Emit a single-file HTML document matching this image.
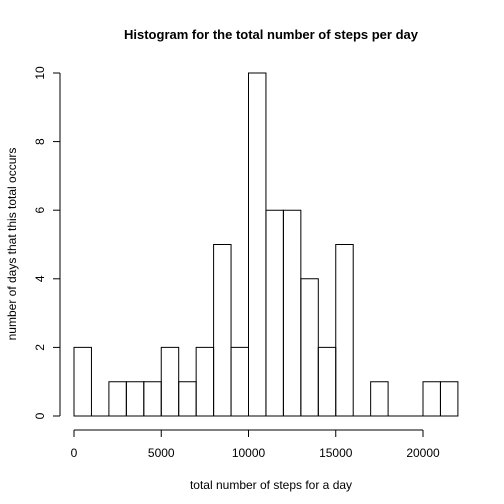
<!DOCTYPE html>
<html><head><meta charset="utf-8"><style>
body{margin:0;background:#fff}
svg{display:block;font-family:"Liberation Sans",Arial,sans-serif}
</style></head><body>
<svg id="c" width="504" height="504" viewBox="0 0 504 504">
<rect width="504" height="504" fill="#fff"/>
<text x="271" y="39" text-anchor="middle" font-weight="bold" font-size="13">Histogram for the total number of steps per day</text>
<text x="271" y="489" text-anchor="middle" font-size="12">total number of steps for a day</text>
<text transform="translate(16,244) rotate(-90)" text-anchor="middle" font-size="12">number of days that this total occurs</text>
<g id="bars"></g>
<g id="xaxis"></g>
<g id="yaxis"></g>
</svg>
<script>
const binStart = 0;
const binWidth = 1000;
const counts = [2,0,1,1,1,2,1,2,5,2,10,6,6,4,2,5,0,1,0,0,1,1];
const xTicks = [0,5000,10000,15000,20000];
const xTickLabels = ["0","5000","10000","15000","20000"];
const yTicks = [0,2,4,6,8,10];
const yTickLabels = ["0","2","4","6","8","10"];

const NS="http://www.w3.org/2000/svg";
const sx=v=>74+(v-0)*(423-74)/20000;
const sy=v=>416-v*(416-73)/10;
function mk(t,a,p){const e=document.createElementNS(NS,t);for(const k in a)e.setAttribute(k,a[k]);p.appendChild(e);return e;}
const bars=document.getElementById('bars');
counts.forEach((c,i)=>{
  const x0=sx(binStart+i*binWidth), x1=sx(binStart+(i+1)*binWidth);
  const y0=sy(0), y1=sy(c);
  const r=mk('path',{d:`M${x0},${y0}L${x0},${y1}L${x1},${y1}L${x1},${y0}Z`,fill:'none',stroke:'#000','stroke-width':1},bars);
  
  
});
const xa=document.getElementById('xaxis');
mk('line',{x1:sx(xTicks[0]),x2:sx(xTicks[xTicks.length-1]),y1:430,y2:430,stroke:'#000'},xa);
xTicks.forEach((t,i)=>{
  mk('line',{x1:sx(t),x2:sx(t),y1:430,y2:437,stroke:'#000'},xa);
  const tx=mk('text',{x:sx(t),y:457,'text-anchor':'middle','font-size':12},xa);
  tx.textContent=xTickLabels[i];
  
  
});
const ya=document.getElementById('yaxis');
mk('line',{x1:60,x2:60,y1:sy(yTicks[0]),y2:sy(yTicks[yTicks.length-1]),stroke:'#000'},ya);
yTicks.forEach((t,i)=>{
  mk('line',{x1:53,x2:60,y1:sy(t),y2:sy(t),stroke:'#000'},ya);
  const tx=mk('text',{transform:`translate(44,${sy(t)}) rotate(-90)`,'text-anchor':'middle','font-size':12},ya);
  tx.textContent=yTickLabels[i];
  
  
});
</script>
</body></html>
